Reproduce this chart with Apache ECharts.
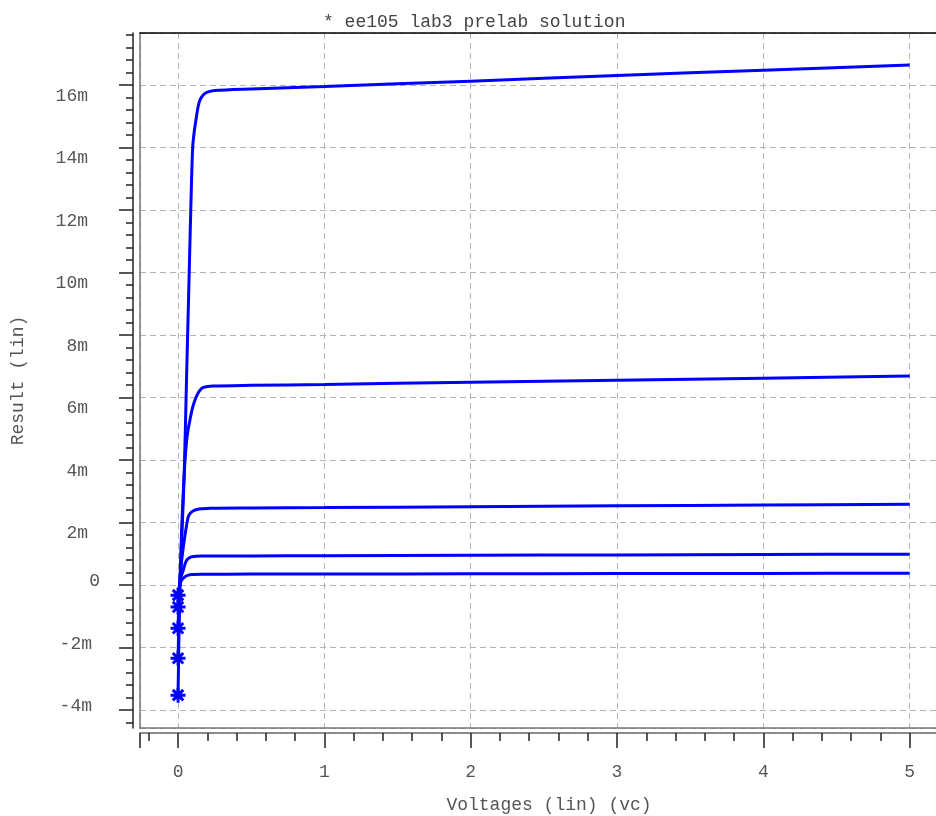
<!DOCTYPE html>
<html>
<head>
<meta charset="utf-8">
<script src="https://cdn.jsdelivr.net/npm/echarts@6/dist/echarts.min.js"></script>
<style>
  html, body { margin: 0; padding: 0; background: #fff; }
  #chart { width: 936px; height: 816px; }
</style>
</head>
<body>
<div id="chart"></div>
<script>
// collector current (mA) vs vc (V), one curve per base drive
const vc1 = [0, 0.004, 0.008, 0.014, 0.025, 0.041, 0.058, 0.075, 0.087, 0.1, 0.112, 0.123, 0.137, 0.15, 0.172, 0.196, 0.25, 0.5, 1, 2, 3, 4, 5];
const ic1 = [-3.52, -2.3, -1.1, 0, 1.5, 3.36, 6.6, 9.76, 12.0, 14.0, 14.55, 14.9, 15.3, 15.52, 15.68, 15.76, 15.82, 15.87, 15.95, 16.12, 16.3, 16.47, 16.64];

const vc2 = [0, 0.006, 0.012, 0.02, 0.03, 0.045, 0.059, 0.07, 0.082, 0.098, 0.116, 0.138, 0.162, 0.2, 0.24, 0.5, 1, 2, 3, 4, 5];
const ic2 = [-2.34, -1.1, 0, 1.1, 2.4, 3.8, 4.64, 5.0, 5.3, 5.65, 5.92, 6.15, 6.3, 6.35, 6.37, 6.39, 6.42, 6.49, 6.55, 6.62, 6.69];

const vc3 = [0, 0.005, 0.01, 0.02, 0.03, 0.042, 0.053, 0.07, 0.085, 0.105, 0.13, 0.162, 0.22, 0.5, 1, 2, 3, 4, 5];
const ic3 = [-1.38, -0.6, 0, 0.55, 1.0, 1.42, 1.76, 2.19, 2.31, 2.38, 2.42, 2.44, 2.46, 2.47, 2.48, 2.51, 2.54, 2.56, 2.59];

const vc4 = [0, 0.006, 0.012, 0.02, 0.036, 0.048, 0.059, 0.075, 0.094, 0.162, 0.5, 1, 2, 3, 4, 5];
const ic4 = [-0.7, -0.3, 0, 0.25, 0.48, 0.68, 0.8, 0.87, 0.91, 0.93, 0.935, 0.94, 0.955, 0.965, 0.98, 0.99];

const vc5 = [0, 0.005, 0.01, 0.025, 0.036, 0.048, 0.07, 0.094, 0.162, 0.5, 1, 2, 3, 4, 5];
const ic5 = [-0.32, -0.15, 0, 0.16, 0.22, 0.27, 0.32, 0.34, 0.35, 0.352, 0.355, 0.36, 0.37, 0.375, 0.38];

// ticks
const xMajor = [-0.26, 0, 1, 2, 3, 4, 5];
const xLabels = [0, 1, 2, 3, 4, 5];
const xMinor = [-0.2, 0.2, 0.4, 0.6, 0.8, 1.2, 1.4, 1.6, 1.8, 2.2, 2.4, 2.6, 2.8, 3.2, 3.4, 3.6, 3.8, 4.2, 4.4, 4.6, 4.8, 5.2];
const yMajor = [-4, -2, 0, 2, 4, 6, 8, 10, 12, 14, 16];
const yMinor = [-4.4, -3.6, -3.2, -2.8, -2.4, -1.6, -1.2, -0.8, -0.4, 0.4, 0.8, 1.2, 1.6, 2.4, 2.8, 3.2, 3.6,
  4.4, 4.8, 5.2, 5.6, 6.4, 6.8, 7.2, 7.6, 8.4, 8.8, 9.2, 9.6, 10.4, 10.8, 11.2, 11.6, 12.4, 12.8, 13.2, 13.6,
  14.4, 14.8, 15.2, 15.6, 16.4, 16.8, 17.2, 17.6];

const X_MIN = -0.26, X_MAX = 5.18;
const Y_MIN = -4.57, Y_MAX = 17.66;

const FONT = 'Liberation Mono';
const TXT = '#555';
const STAR = 'path://M0 8L20 8L20 12L0 12Z M8 0L12 0L12 20L8 20Z M1.6 4.4L4.4 1.6L18.4 15.6L15.6 18.4Z M15.6 1.6L18.4 4.4L4.4 18.4L1.6 15.6Z';

function toPoints(xs, ys) {
  return xs.map((x, i) => {
    const p = { value: [x, ys[i]] };
    if (i === 0) {
      p.symbol = STAR;
      p.symbolSize = 15;
    }
    return p;
  });
}

function curve(xs, ys) {
  return {
    type: 'line',
    xAxisIndex: 0,
    yAxisIndex: 0,
    data: toPoints(xs, ys),
    symbol: 'none',
    smooth: 0.3,
    lineStyle: { color: '#0000ff', width: 3 },
    itemStyle: { color: '#0000ff' },
    clip: false
  };
}

const noZero = (color, width) => ({ show: true, onZero: false, lineStyle: { color: color, width: width } });
const hidden = { show: false, onZero: false };

const chart = echarts.init(document.getElementById('chart'));

const option = {
  animation: false,
  backgroundColor: '#fff',
  title: {
    text: '* ee105 lab3 prelab solution',
    left: 318,
    top: 8,
    textStyle: { fontFamily: FONT, fontSize: 18, fontWeight: 'normal', color: '#444' }
  },
  grid: { left: 140, right: 0, top: 33, bottom: 88, containLabel: false, outerBoundsMode: 'none' },
  xAxis: [
    {
      // data axis, grid frame bottom + dashed grid
      type: 'value', min: X_MIN, max: X_MAX, position: 'bottom',
      axisLine: noZero('#777', 1.5),
      axisTick: { show: false },
      axisLabel: { show: false },
      splitLine: { show: true, lineStyle: { color: '#b4b4b4', type: [6, 4], width: 1 } }
    },
    {
      // offset axis with major ticks and labels
      type: 'value', min: X_MIN, max: X_MAX, position: 'bottom', offset: 5,
      axisLine: noZero('#666', 1.5),
      axisTick: { show: true, customValues: xMajor, length: 15, lineStyle: { color: '#222', width: 1.5 } },
      axisLabel: { show: true, customValues: xLabels, margin: 30, fontFamily: FONT, fontSize: 18, color: TXT },
      splitLine: { show: false },
      name: 'Voltages (lin) (vc)',
      nameLocation: 'middle',
      nameGap: 63,
      nameTextStyle: { fontFamily: FONT, fontSize: 18, color: TXT, padding: [0, 0, 0, 22] }
    },
    {
      // minor ticks
      type: 'value', min: X_MIN, max: X_MAX, position: 'bottom', offset: 5,
      axisLine: hidden,
      axisTick: { show: true, customValues: xMinor, length: 8, lineStyle: { color: '#222', width: 1.5 } },
      axisLabel: { show: false },
      splitLine: { show: false }
    },
    {
      // top frame line
      type: 'value', min: X_MIN, max: X_MAX, position: 'top',
      axisLine: noZero('#000', 1.5),
      axisTick: { show: false },
      axisLabel: { show: false },
      splitLine: { show: false }
    }
  ],
  yAxis: [
    {
      type: 'value', min: Y_MIN, max: Y_MAX, splitNumber: 11, position: 'left',
      axisLine: noZero('#777', 1.5),
      axisTick: { show: false },
      axisLabel: { show: false },
      splitLine: { show: true, lineStyle: { color: '#b4b4b4', type: [6, 4], width: 1 } }
    },
    {
      type: 'value', min: Y_MIN, max: Y_MAX, position: 'left', offset: 7,
      axisLine: noZero('#222', 1.5),
      axisTick: { show: true, customValues: yMajor, length: 14, lineStyle: { color: '#222', width: 1.5 } },
      axisLabel: {
        show: true, customValues: yMajor, margin: 33,
        fontFamily: FONT, fontSize: 18, color: TXT,
        formatter: (v) => {
          if (v === 0) return '{z|0}';
          if (v < 0) return '{n|-' + (-v) + 'm}';
          return '{p|' + v + 'm}';
        },
        rich: {
          p: { fontFamily: FONT, fontSize: 18, color: TXT, padding: [22, 12, 0, 0] },
          n: { fontFamily: FONT, fontSize: 18, color: TXT, padding: [0, 8, 7, 0] },
          z: { fontFamily: FONT, fontSize: 18, color: TXT, padding: [0, 0, 7, 0] }
        }
      },
      splitLine: { show: false },
      name: 'Result (lin)',
      nameLocation: 'middle',
      nameGap: 106,
      nameTextStyle: { fontFamily: FONT, fontSize: 18, color: TXT }
    },
    {
      type: 'value', min: Y_MIN, max: Y_MAX, position: 'left', offset: 7,
      axisLine: hidden,
      axisTick: { show: true, customValues: yMinor, length: 7, lineStyle: { color: '#222', width: 1.5 } },
      axisLabel: { show: false },
      splitLine: { show: false }
    }
  ],
  series: [
    curve(vc1, ic1),
    curve(vc2, ic2),
    curve(vc3, ic3),
    curve(vc4, ic4),
    curve(vc5, ic5)
  ]
};

chart.setOption(option);
</script>
</body>
</html>
